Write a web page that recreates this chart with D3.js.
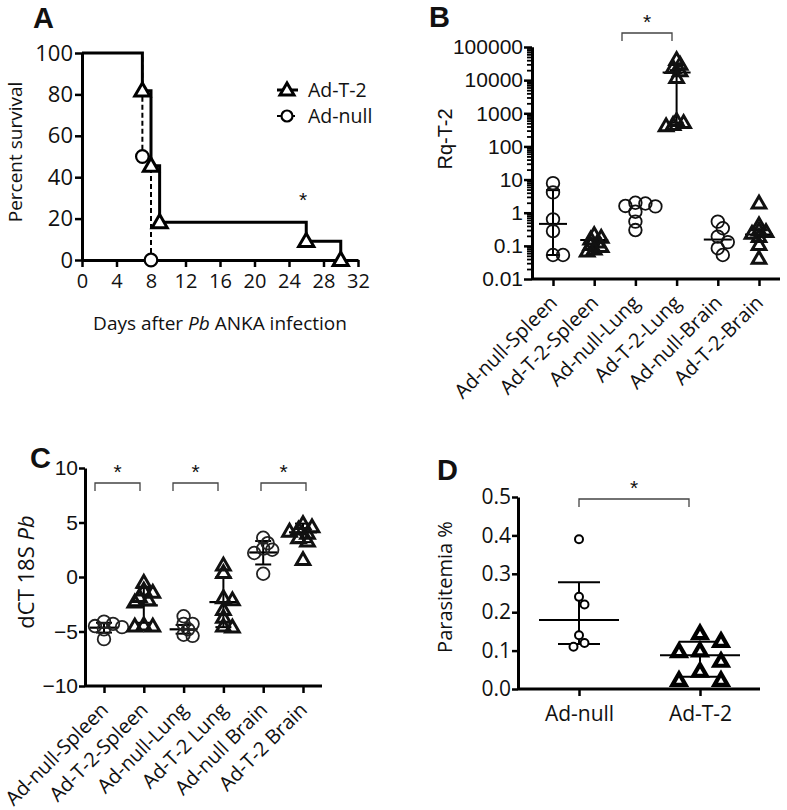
<!DOCTYPE html>
<html>
<head>
<meta charset="utf-8">
<script src="https://cdn.jsdelivr.net/npm/d3@7"></script>
<style>
  body { margin: 0; background: #fff; }
  svg text { fill: #111; }
</style>
</head>
<body>
<div id="fig"></div>
<script>
// ---- data ----
// A: Kaplan-Meier survival
const t2Days = [0, 7, 8, 9, 26, 30];
const t2Surv = [100, 81.8, 45.5, 18.2, 9.1, 0];
const nullDays = [0, 7, 8];
const nullSurv = [100, 50, 0];
const survTicksX = [0, 4, 8, 12, 16, 20, 24, 28, 32];
const survTicksY = [0, 20, 40, 60, 80, 100];

// B: Rq-T-2 (log scale), median with range
const rqGroups = ["Ad-null-Spleen", "Ad-T-2-Spleen", "Ad-null-Lung", "Ad-T-2-Lung", "Ad-null-Brain", "Ad-T-2-Brain"];
const rqNullSpleen = [7.8, 4.1, 0.63, 0.28, 0.053, 0.053];
const rqT2Spleen = [0.22, 0.18, 0.16, 0.13, 0.11, 0.095, 0.08, 0.07];
const rqNullLung = [2.0, 1.9, 1.6, 1.55, 1.07, 0.54, 0.30];
const rqT2Lung = [42000, 30000, 24000, 19000, 12000, 600, 520, 460, 420];
const rqNullBrain = [0.54, 0.34, 0.19, 0.13, 0.085, 0.053];
const rqT2Brain = [1.94, 0.43, 0.30, 0.27, 0.24, 0.19, 0.11, 0.042];
const rqMedian = [0.46, 0.15, null, 17000, 0.155, 0.22];
const rqLow = [0.053, null, null, 520, null, null];
const rqHigh = [4.8, null, null, 20000, null, null];
const rqTicks = [0.01, 0.1, 1, 10, 100, 1000, 10000, 100000];

// C: dCT 18S Pb, mean +/- SD
const dctGroups = ["Ad-null-Spleen", "Ad-T-2-Spleen", "Ad-null-Lung", "Ad-T-2 Lung", "Ad-null Brain", "Ad-T-2 Brain"];
const dctNullSpleen = [-4.1, -4.3, -4.5, -4.6, -4.8, -5.7];
const dctT2Spleen = [-0.5, -1.2, -1.4, -1.8, -2.1, -2.3, -4.4, -4.5, -4.5];
const dctNullLung = [-3.6, -4.3, -4.3, -4.8, -5.3, -5.4];
const dctT2Lung = [1.1, 0.4, -1.9, -2.1, -3.0, -3.7, -4.5, -4.6];
const dctNullBrain = [3.6, 3.1, 2.6, 2.5, 2.2, 0.3];
const dctT2Brain = [4.9, 4.6, 4.4, 4.2, 4.0, 3.6, 3.3, 1.6];
const dctMean = [-4.65, -2.6, -4.8, -2.3, 2.25, 4.1];
const dctLow = [-5.1, -4.2, -5.2, -4.6, 1.15, 3.2];
const dctHigh = [-4.2, -1.0, -4.4, 0.0, 3.3, 4.9];
const dctTicks = [-10, -5, 0, 5, 10];

// D: parasitemia
const parGroups = ["Ad-null", "Ad-T-2"];
const parNull = [0.39, 0.24, 0.22, 0.14, 0.12, 0.11];
const parT2 = [0.145, 0.125, 0.10, 0.098, 0.073, 0.047, 0.023, 0.023];
const parMean = [0.18, 0.088];
const parLow = [0.117, 0.032];
const parHigh = [0.278, 0.123];
const parTicks = [0.0, 0.1, 0.2, 0.3, 0.4, 0.5];

const calib = "'Open Sans', 'Liberation Sans', sans-serif";
const arial = "'Liberation Sans', Arial, sans-serif";

const svg = d3.select("#fig").append("svg")
    .attr("width", 787)
    .attr("height", 810);

const tri = d3.symbol().type(d3.symbolTriangle);

// simple beeswarm: spread close points sideways around the column centre
function swarm(vals, yScale, cx, minDist, step) {
    const pts = vals.map(v => ({ v: v, y: yScale(v) })).sort((a, b) => a.y - b.y);
    const placed = [];
    pts.forEach(p => {
        for (let k = 0; k < 40; k++) {
            const off = k === 0 ? 0 : (k % 2 ? 1 : -1) * Math.ceil(k / 2) * step;
            if (placed.every(q => Math.hypot(q.x - (cx + off), q.y - p.y) >= minDist)) {
                p.x = cx + off;
                break;
            }
        }
        if (p.x === undefined) p.x = cx;
        placed.push(p);
    });
    return pts;
}

function panelLetter(t, x, y) {
    svg.append("text").text(t)
        .attr("x", x).attr("y", y)
        .style("font-family", arial)
        .style("font-weight", "bold")
        .style("font-size", "29px");
}

function bracket(x1, x2, y) {
    svg.append("path")
        .attr("d", `M${x1},${y + 8}V${y}H${x2}V${y + 8}`)
        .attr("fill", "none").attr("stroke", "#444").attr("stroke-width", 1.3);
    svg.append("text").text("*")
        .attr("x", (x1 + x2) / 2).attr("y", y - 4)
        .attr("text-anchor", "middle")
        .style("font-family", arial).style("font-size", "21px");
}

function styleAxis(g, font, size) {
    g.select(".domain").attr("stroke", "#000").attr("stroke-width", 3);
    g.selectAll(".tick line").attr("stroke", "#000").attr("stroke-width", 2.5);
    g.selectAll(".tick text").style("font-family", font).style("font-size", size).attr("fill", "#111");
}

function rotatedLabels(gx) {
    gx.selectAll(".tick").append("text")
        .text(d => d)
        .attr("transform", "translate(5,25) rotate(-45)")
        .attr("text-anchor", "end")
        .style("font-family", calib).style("font-size", "20px").attr("fill", "#111");
}

// ================= A =================
(function () {
    const x = d3.scaleLinear().domain([0, 32]).range([82, 358]);
    const y = d3.scaleLinear().domain([0, 100]).range([260, 53]);

    const gx = svg.append("g").attr("transform", "translate(0,260)")
        .call(d3.axisBottom(x).tickValues(survTicksX).tickSize(7).tickSizeOuter(0).tickPadding(7));
    styleAxis(gx, calib, "20px");
    const gy = svg.append("g").attr("transform", "translate(82,0)")
        .call(d3.axisLeft(y).tickValues(survTicksY).tickSize(7).tickSizeOuter(0).tickPadding(2));
    styleAxis(gy, calib, "22px");

    const line = d3.line().x(d => x(d[0])).y(d => y(d[1])).curve(d3.curveStepAfter);
    svg.append("path").datum(nullDays.map((d, i) => [d, nullSurv[i]]))
        .attr("d", line).attr("fill", "none").attr("stroke", "#000")
        .attr("stroke-width", 2).attr("stroke-dasharray", "5,3");
    svg.append("path").datum(t2Days.map((d, i) => [d, t2Surv[i]]))
        .attr("d", line).attr("fill", "none").attr("stroke", "#000").attr("stroke-width", 3);

    svg.selectAll(".a-null").data(nullDays.slice(1)).enter().append("circle")
        .attr("cx", d => x(d)).attr("cy", (d, i) => y(nullSurv[i + 1]))
        .attr("r", 6.3).attr("fill", "#fff").attr("stroke", "#000").attr("stroke-width", 2.2);
    svg.selectAll(".a-t2").data(t2Days.slice(1)).enter().append("path")
        .attr("d", tri.size(100))
        .attr("transform", (d, i) => `translate(${x(d)},${y(t2Surv[i + 1]) + 1})`)
        .attr("fill", "#fff").attr("stroke", "#000").attr("stroke-width", 3);

    // legend
    svg.append("line").attr("x1", 277).attr("x2", 298).attr("y1", 90).attr("y2", 90)
        .attr("stroke", "#000").attr("stroke-width", 3);
    svg.append("path").attr("d", tri.size(85)).attr("transform", "translate(287,91)")
        .attr("fill", "#fff").attr("stroke", "#000").attr("stroke-width", 3);
    svg.append("text").text("Ad-T-2").attr("x", 308).attr("y", 97)
        .style("font-family", calib).style("font-size", "19.5px");
    svg.append("line").attr("x1", 277).attr("x2", 298).attr("y1", 116).attr("y2", 116)
        .attr("stroke", "#000").attr("stroke-width", 2).attr("stroke-dasharray", "4,3");
    svg.append("circle").attr("cx", 287).attr("cy", 116).attr("r", 5.5)
        .attr("fill", "#fff").attr("stroke", "#000").attr("stroke-width", 2.2);
    svg.append("text").text("Ad-null").attr("x", 308).attr("y", 123)
        .style("font-family", calib).style("font-size", "19.5px");

    svg.append("text").text("*").attr("x", 303).attr("y", 207).attr("text-anchor", "middle")
        .style("font-family", arial).style("font-size", "21px");

    svg.append("text").text("Percent survival")
        .attr("transform", "translate(22,152) rotate(-90)").attr("text-anchor", "middle")
        .style("font-family", calib).style("font-size", "19px");
    const xl = svg.append("text").attr("x", 220).attr("y", 330).attr("text-anchor", "middle")
        .style("font-family", calib).style("font-size", "19px");
    xl.append("tspan").text("Days after ");
    xl.append("tspan").text("Pb").style("font-style", "italic");
    xl.append("tspan").text(" ANKA infection");

    panelLetter("A", 33, 28);
})();

// ================= B =================
(function () {
    const x = d3.scalePoint().domain(rqGroups).range([553, 759]);
    const y = d3.scaleLog().domain([0.01, 100000]).range([279, 47]);

    const gx = svg.append("g").attr("transform", "translate(0,279)")
        .call(d3.axisBottom(x).tickSize(7).tickSizeOuter(0).tickFormat(""));
    gx.select(".domain").attr("d", "M532,0H780");
    styleAxis(gx, calib, "16px");
    rotatedLabels(gx);

    // minor ticks first, then majors with labels
    const minor = y.ticks().filter(v => rqTicks.indexOf(v) < 0);
    const gm = svg.append("g").attr("transform", "translate(532,0)")
        .call(d3.axisLeft(y).tickValues(minor).tickSize(5).tickFormat("").tickSizeOuter(0));
    styleAxis(gm, arial, "19px");
    gm.selectAll(".tick line").attr("stroke-width", 1.8);
    const gy = svg.append("g").attr("transform", "translate(532,0)")
        .call(d3.axisLeft(y).tickValues(rqTicks).tickSize(8).tickSizeOuter(0).tickPadding(1));
    gy.selectAll(".tick text").text(d => d >= 1 ? String(Math.round(d)) : String(d));
    styleAxis(gy, arial, "21px");

    const series = [rqNullSpleen, rqT2Spleen, rqNullLung, rqT2Lung, rqNullBrain, rqT2Brain];
    // median and range bars
    rqGroups.forEach((g, i) => {
        const cx = x(g);
        if (rqLow[i] !== null) {
            svg.append("line").attr("x1", cx).attr("x2", cx)
                .attr("y1", y(rqLow[i])).attr("y2", y(rqHigh[i]))
                .attr("stroke", "#000").attr("stroke-width", 2);
            [rqLow[i], rqHigh[i]].forEach(v => svg.append("line")
                .attr("x1", cx - 7).attr("x2", cx + 7).attr("y1", y(v)).attr("y2", y(v))
                .attr("stroke", "#000").attr("stroke-width", 2));
        }
        if (rqMedian[i] !== null) {
            svg.append("line").attr("x1", cx - 14).attr("x2", cx + 14)
                .attr("y1", y(rqMedian[i])).attr("y2", y(rqMedian[i]))
                .attr("stroke", "#000").attr("stroke-width", 2);
        }
    });
    series.forEach((vals, i) => {
        if (i % 2 === 0) {
            const pts = swarm(vals, y, x(rqGroups[i]), 8, 5);
            svg.selectAll(null).data(pts).enter().append("circle")
                .attr("cx", d => d.x).attr("cy", d => d.y).attr("r", 6.3)
                .attr("fill", "none").attr("stroke", "#111").attr("stroke-width", 1.8);
        } else {
            const pts = swarm(vals, y, x(rqGroups[i]), 5, 3.5);
            svg.selectAll(null).data(pts).enter().append("path")
                .attr("d", tri.size(80))
                .attr("transform", d => `translate(${d.x},${d.y + 1})`)
                .attr("fill", "none").attr("stroke", "#111").attr("stroke-width", 3);
        }
    });

    bracket(622, 672, 33);

    svg.append("text").text("Rq-T-2")
        .attr("transform", "translate(452,139) rotate(-90)").attr("text-anchor", "middle")
        .style("font-family", arial).style("font-size", "20px");

    panelLetter("B", 429, 27);
})();

// ================= C =================
(function () {
    const x = d3.scalePoint().domain(dctGroups).range([104, 303]);
    const y = d3.scaleLinear().domain([-10, 10]).range([686, 468]);

    const gx = svg.append("g").attr("transform", "translate(0,686)")
        .call(d3.axisBottom(x).tickSize(7).tickSizeOuter(0).tickFormat(""));
    gx.select(".domain").attr("d", "M85,0H322");
    styleAxis(gx, calib, "16px");
    rotatedLabels(gx);

    const gy = svg.append("g").attr("transform", "translate(85,0)")
        .call(d3.axisLeft(y).tickValues(dctTicks).tickSize(6).tickSizeOuter(0).tickPadding(1));
    styleAxis(gy, arial, "21px");

    const series = [dctNullSpleen, dctT2Spleen, dctNullLung, dctT2Lung, dctNullBrain, dctT2Brain];
    dctGroups.forEach((g, i) => {
        const cx = x(g);
        svg.append("line").attr("x1", cx).attr("x2", cx)
            .attr("y1", y(dctLow[i])).attr("y2", y(dctHigh[i]))
            .attr("stroke", "#000").attr("stroke-width", 2);
        [dctLow[i], dctHigh[i]].forEach(v => svg.append("line")
            .attr("x1", cx - 8).attr("x2", cx + 8).attr("y1", y(v)).attr("y2", y(v))
            .attr("stroke", "#000").attr("stroke-width", 2));
        svg.append("line").attr("x1", cx - 14).attr("x2", cx + 14)
            .attr("y1", y(dctMean[i])).attr("y2", y(dctMean[i]))
            .attr("stroke", "#000").attr("stroke-width", 2.2);
    });
    series.forEach((vals, i) => {
        const pts = swarm(vals, y, x(dctGroups[i]), 7, 4.5);
        if (i % 2 === 0) {
            svg.selectAll(null).data(pts).enter().append("circle")
                .attr("cx", d => d.x).attr("cy", d => d.y).attr("r", 6.3)
                .attr("fill", "none").attr("stroke", "#222").attr("stroke-width", 1.8);
        } else {
            svg.selectAll(null).data(pts).enter().append("path")
                .attr("d", tri.size(80))
                .attr("transform", d => `translate(${d.x},${d.y + 1})`)
                .attr("fill", "none").attr("stroke", "#111").attr("stroke-width", 3);
        }
    });

    bracket(95, 140, 483);
    bracket(173, 218, 483);
    bracket(261, 306, 483);

    const yl = svg.append("text")
        .attr("transform", "translate(34,572) rotate(-90)").attr("text-anchor", "middle")
        .style("font-family", calib).style("font-size", "22px");
    yl.append("tspan").text("dCT 18S ");
    yl.append("tspan").text("Pb").style("font-style", "italic");

    panelLetter("C", 30, 468);
})();

// ================= D =================
(function () {
    const x = d3.scalePoint().domain(parGroups).range([579, 700]);
    const y = d3.scaleLinear().domain([0, 0.5]).range([689, 497]);

    const gx = svg.append("g").attr("transform", "translate(0,689)")
        .call(d3.axisBottom(x).tickSize(7).tickSizeOuter(0).tickPadding(10));
    gx.select(".domain").attr("d", "M518,0H760");
    styleAxis(gx, calib, "21px");
    const gy = svg.append("g").attr("transform", "translate(518,0)")
        .call(d3.axisLeft(y).tickValues(parTicks).tickSize(6).tickSizeOuter(0).tickPadding(1)
            .tickFormat(d3.format(".1f")));
    styleAxis(gy, calib, "21px");

    parGroups.forEach((g, i) => {
        const cx = x(g);
        svg.append("line").attr("x1", cx).attr("x2", cx)
            .attr("y1", y(parLow[i])).attr("y2", y(parHigh[i]))
            .attr("stroke", "#000").attr("stroke-width", 2);
        [parLow[i], parHigh[i]].forEach(v => svg.append("line")
            .attr("x1", cx - 21).attr("x2", cx + 21).attr("y1", y(v)).attr("y2", y(v))
            .attr("stroke", "#000").attr("stroke-width", 2));
        svg.append("line").attr("x1", cx - 40).attr("x2", cx + 40)
            .attr("y1", y(parMean[i])).attr("y2", y(parMean[i]))
            .attr("stroke", "#000").attr("stroke-width", 2);
    });
    const nullPts = swarm(parNull, y, x("Ad-null"), 9, 5.5);
    svg.selectAll(null).data(nullPts).enter().append("circle")
        .attr("cx", d => d.x).attr("cy", d => d.y).attr("r", 4)
        .attr("fill", "#fff").attr("stroke", "#000").attr("stroke-width", 2);
    const t2Pts = swarm(parT2, y, x("Ad-T-2"), 15, 10.5);
    svg.selectAll(null).data(t2Pts).enter().append("path")
        .attr("d", tri.size(75))
        .attr("transform", d => `translate(${d.x},${d.y + 1})`)
        .attr("fill", "#fff").attr("stroke", "#000").attr("stroke-width", 4.2);

    bracket(579, 689, 499);

    svg.append("text").text("Parasitemia %")
        .attr("transform", "translate(452,587) rotate(-90)").attr("text-anchor", "middle")
        .style("font-family", calib).style("font-size", "20px");

    panelLetter("D", 437, 480);
})();
</script>
</body>
</html>
